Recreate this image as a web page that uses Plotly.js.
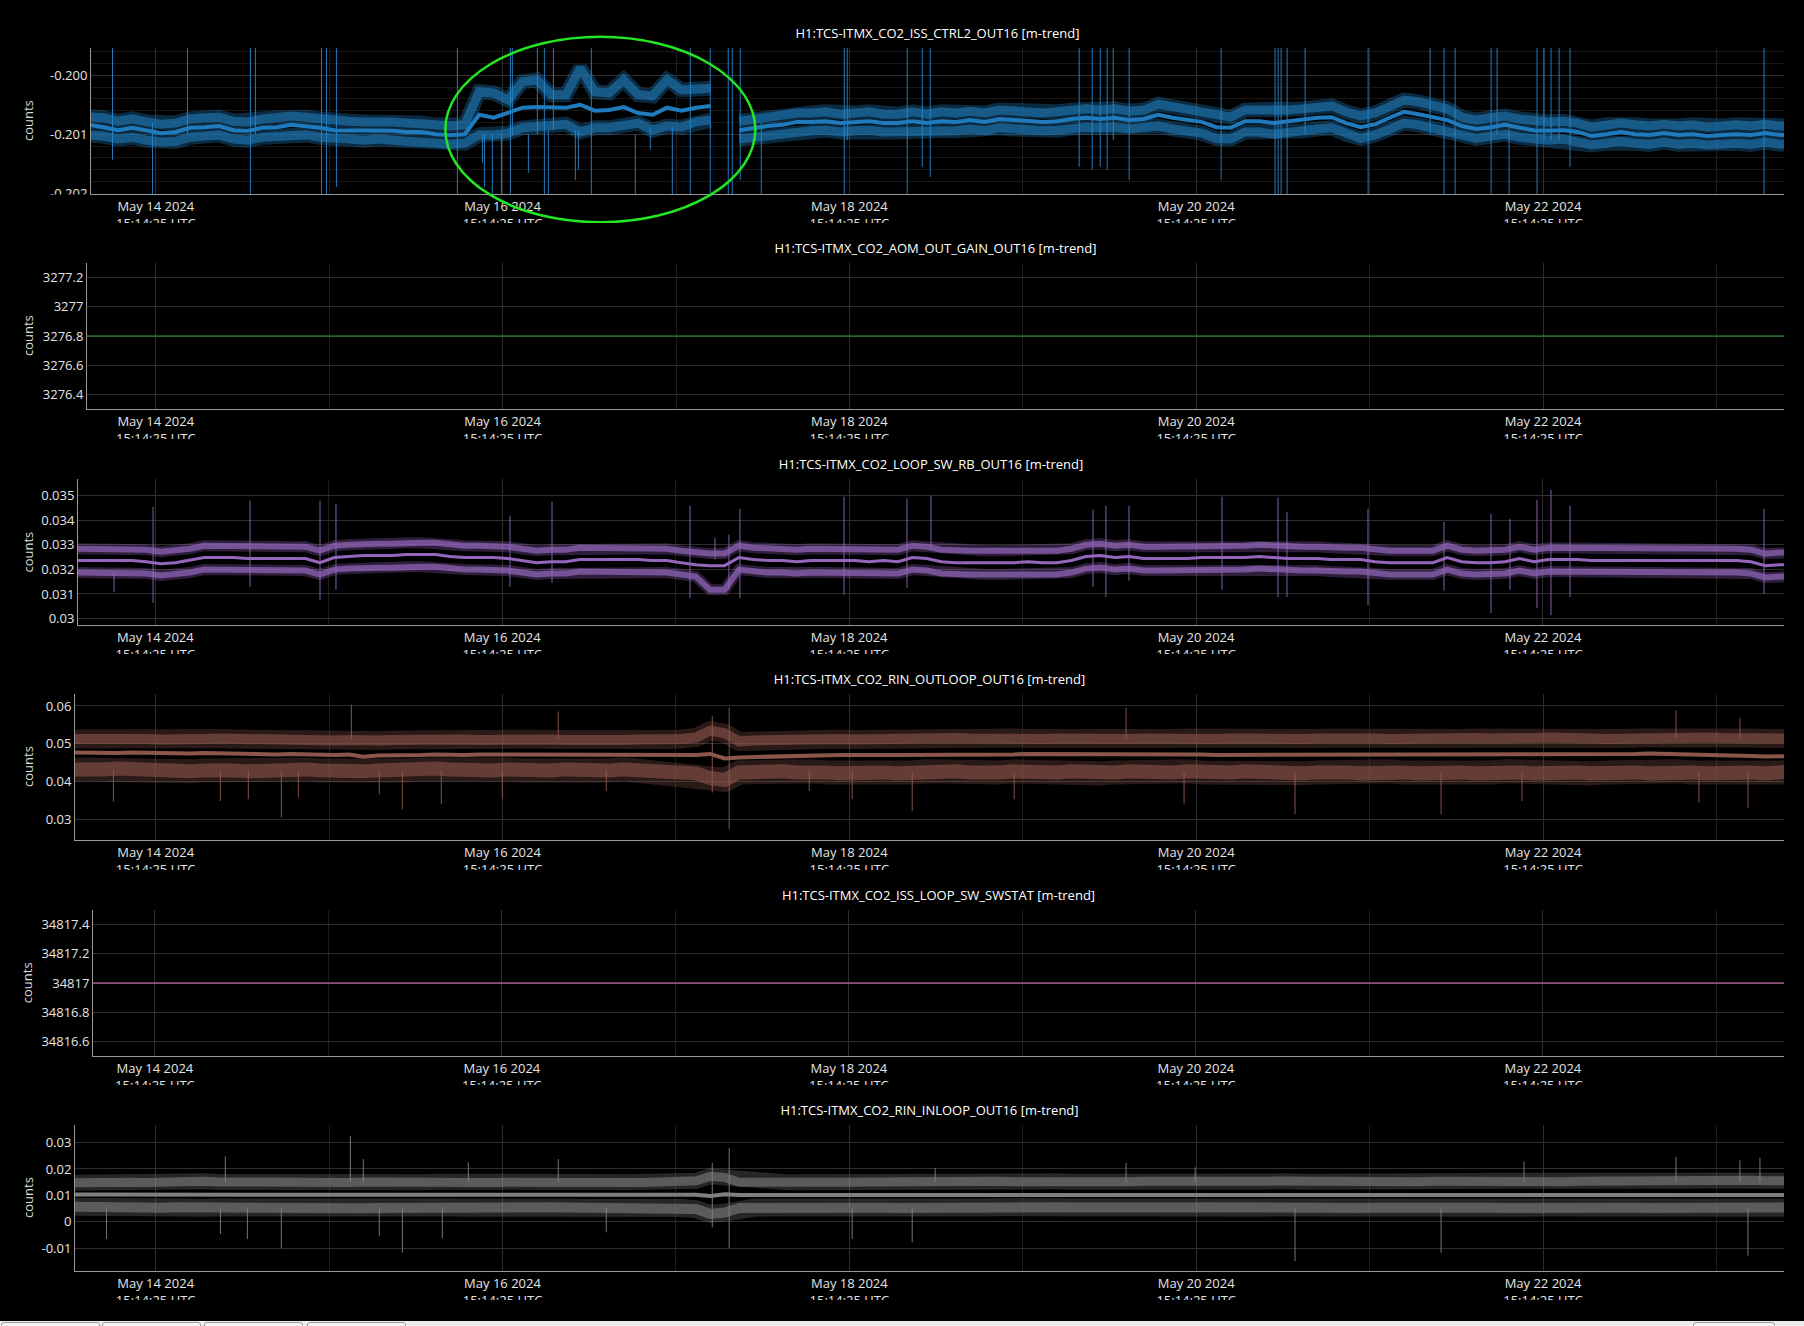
<!DOCTYPE html>
<html>
<head>
<meta charset="utf-8">
<script src="https://cdn.plot.ly/plotly-3.0.1.min.js"></script>
<style>
  html { background:#000; }
  body { margin:8px; background:#000; overflow:hidden; width:1788px; }
  .panel { width:1788px; height:215.4px; overflow:hidden; position:relative; }
  .panel > div { width:1788px; height:240px; }
  #tabbar { position:absolute; left:0; top:1321px; width:1804px; height:5px; background:#ececec; }
  .tab { position:absolute; top:1px; height:8px; border:1px solid #9a9a9a; border-radius:3px 3px 0 0; background:#f6f6f6; }
</style>
</head>
<body>
<div class="panel"><div id="p1"></div></div>
<div class="panel"><div id="p2"></div></div>
<div class="panel"><div id="p3"></div></div>
<div class="panel"><div id="p4"></div></div>
<div class="panel"><div id="p5"></div></div>
<div class="panel"><div id="p6"></div></div>
<div id="tabbar">
  <div class="tab" style="left:1px;width:97px"></div>
  <div class="tab" style="left:102px;width:97px"></div>
  <div class="tab" style="left:204px;width:97px"></div>
  <div class="tab" style="left:307px;width:97px"></div>
  <div class="tab" style="left:1693px;width:80px"></div>
</div>
<script>
// ---------- time grid (minute-trend samples resampled every 2 h, hours from 2024-05-14 04:00 UTC) ----------
const gridStartUTC = Date.UTC(2024, 4, 14, 4, 0, 0);
const gridStepHours = 2;
const gridCount = 120;

// ---------- channel titles ----------
const titles = [
  'H1:TCS-ITMX_CO2_ISS_CTRL2_OUT16 [m-trend]',
  'H1:TCS-ITMX_CO2_AOM_OUT_GAIN_OUT16 [m-trend]',
  'H1:TCS-ITMX_CO2_LOOP_SW_RB_OUT16 [m-trend]',
  'H1:TCS-ITMX_CO2_RIN_OUTLOOP_OUT16 [m-trend]',
  'H1:TCS-ITMX_CO2_ISS_LOOP_SW_SWSTAT [m-trend]',
  'H1:TCS-ITMX_CO2_RIN_INLOOP_OUT16 [m-trend]'
];

// ---------- y tick labels (hyphen minus, as in the reference) ----------
const p1TickVals = [-0.202, -0.201, -0.200];
const p1TickText = ['-0.202', '-0.201', '-0.200'];
const p6TickVals = [-0.01, 0, 0.01, 0.02, 0.03];
const p6TickText = ['-0.01', '0', '0.01', '0.02', '0.03'];

// ---------- panel 1: ISS_CTRL2 ----------
const issCtrl2Mean = [-0.20084,-0.20084,-0.20088,-0.20093,-0.20089,-0.20094,-0.20098,-0.20096,-0.20089,-0.20088,
 -0.20086,-0.20093,-0.20094,-0.20089,-0.20088,-0.20084,-0.20086,-0.20089,-0.20093,-0.20093,
 -0.20094,-0.20093,-0.20094,-0.20096,-0.20096,-0.20100,-0.20101,-0.20100,-0.20067,-0.20072,
 -0.20064,-0.20055,-0.20054,-0.20055,-0.20055,-0.20050,-0.20060,-0.20059,-0.20054,-0.20064,
 -0.20067,-0.20055,-0.20060,-0.20055,-0.20052,null,-0.20093,-0.20089,-0.20086,-0.20084,
 -0.20079,-0.20079,-0.20078,-0.20081,-0.20079,-0.20078,-0.20081,-0.20081,-0.20078,-0.20081,
 -0.20078,-0.20079,-0.20076,-0.20079,-0.20074,-0.20076,-0.20078,-0.20079,-0.20078,-0.20074,
 -0.20072,-0.20074,-0.20072,-0.20076,-0.20074,-0.20067,-0.20072,-0.20076,-0.20079,-0.20088,
 -0.20089,-0.20078,-0.20078,-0.20081,-0.20078,-0.20076,-0.20072,-0.20071,-0.20081,-0.20088,
 -0.20083,-0.20072,-0.20062,-0.20066,-0.20071,-0.20076,-0.20086,-0.20091,-0.20088,-0.20084,
 -0.20089,-0.20093,-0.20094,-0.20093,-0.20096,-0.20103,-0.20100,-0.20096,-0.20100,-0.20101,
 -0.20098,-0.20101,-0.20100,-0.20103,-0.20101,-0.20100,-0.20101,-0.20098,-0.20101,-0.20101];
const issCtrl2Max = [-0.20069,-0.20069,-0.20072,-0.20078,-0.20074,-0.20079,-0.20083,-0.20081,-0.20074,-0.20072,
 -0.20071,-0.20078,-0.20079,-0.20074,-0.20072,-0.20069,-0.20071,-0.20074,-0.20078,-0.20078,
 -0.20079,-0.20078,-0.20079,-0.20081,-0.20081,-0.20084,-0.20086,-0.20084,-0.20028,-0.20030,
 -0.20042,-0.20011,-0.20008,-0.20033,-0.20033,-0.19988,-0.20028,-0.20030,-0.20008,-0.20033,
 -0.20035,-0.20008,-0.20025,-0.20025,-0.20022,null,-0.20078,-0.20074,-0.20071,-0.20069,
 -0.20064,-0.20064,-0.20062,-0.20066,-0.20064,-0.20062,-0.20066,-0.20066,-0.20062,-0.20066,
 -0.20062,-0.20064,-0.20061,-0.20064,-0.20059,-0.20061,-0.20062,-0.20064,-0.20062,-0.20059,
 -0.20057,-0.20059,-0.20057,-0.20061,-0.20059,-0.20049,-0.20054,-0.20057,-0.20061,-0.20069,
 -0.20071,-0.20059,-0.20059,-0.20062,-0.20059,-0.20057,-0.20054,-0.20052,-0.20062,-0.20069,
 -0.20064,-0.20054,-0.20042,-0.20045,-0.20052,-0.20057,-0.20071,-0.20076,-0.20072,-0.20069,
 -0.20074,-0.20078,-0.20079,-0.20078,-0.20081,-0.20088,-0.20084,-0.20081,-0.20084,-0.20086,
 -0.20083,-0.20086,-0.20084,-0.20088,-0.20086,-0.20084,-0.20086,-0.20083,-0.20086,-0.20086];
const issCtrl2Min = [-0.20100,-0.20100,-0.20103,-0.20108,-0.20105,-0.20110,-0.20113,-0.20112,-0.20105,-0.20103,
 -0.20101,-0.20108,-0.20110,-0.20105,-0.20103,-0.20100,-0.20101,-0.20105,-0.20108,-0.20108,
 -0.20110,-0.20108,-0.20110,-0.20112,-0.20112,-0.20115,-0.20117,-0.20115,-0.20101,-0.20101,
 -0.20098,-0.20089,-0.20086,-0.20084,-0.20083,-0.20096,-0.20089,-0.20089,-0.20084,-0.20081,
 -0.20093,-0.20086,-0.20088,-0.20079,-0.20076,null,-0.20108,-0.20105,-0.20101,-0.20100,
 -0.20094,-0.20094,-0.20093,-0.20096,-0.20094,-0.20093,-0.20096,-0.20096,-0.20093,-0.20096,
 -0.20093,-0.20094,-0.20091,-0.20094,-0.20089,-0.20091,-0.20093,-0.20094,-0.20093,-0.20089,
 -0.20088,-0.20089,-0.20088,-0.20091,-0.20089,-0.20086,-0.20091,-0.20094,-0.20098,-0.20107,
 -0.20108,-0.20096,-0.20096,-0.20100,-0.20096,-0.20094,-0.20091,-0.20089,-0.20100,-0.20107,
 -0.20101,-0.20091,-0.20081,-0.20084,-0.20089,-0.20094,-0.20101,-0.20107,-0.20103,-0.20100,
 -0.20105,-0.20108,-0.20110,-0.20108,-0.20112,-0.20118,-0.20115,-0.20112,-0.20115,-0.20117,
 -0.20113,-0.20117,-0.20115,-0.20118,-0.20117,-0.20115,-0.20117,-0.20113,-0.20117,-0.20117];
// glitches: hours since grid start, top and bottom value reached
const issCtrl2SpikeHours = [5.25,10.78,15.62,24.34,25.03,34.17,34.86,36.24,52.98,56.44,56.72,57.82,59.07,60.32,60.59,62.81,64.05,65.02,65.57,66.27,69.31,69.73,71.52,77.61,79.68,82.73,85.22,87.98,90.47,91.03,92.13,95.04,106.53,106.94,115.24,117.32,118.42,139.04,140.84,141.95,142.91,143.75,145.96,158.69,166.16,166.58,166.99,167.82,170.31,179.03,187.61,189.54,191.07,196.05,196.88,198.54,202.41,203.38,204.35,205.46,206.98,233.83];
const issCtrl2SpikeHigh = [-0.1995,-0.20080,-0.1995,-0.1995,-0.1995,-0.1995,-0.1995,-0.1995,-0.1995,-0.20100,-0.20100,-0.20100,-0.20100,-0.1995,-0.1995,-0.20100,-0.1995,-0.1995,-0.20093,-0.1995,-0.20093,-0.20093,-0.1995,-0.20100,-0.20088,-0.20088,-0.1995,-0.1995,-0.1995,-0.1995,-0.1995,-0.20080,-0.1995,-0.1995,-0.1995,-0.1995,-0.1995,-0.1995,-0.1995,-0.1995,-0.1995,-0.1995,-0.1995,-0.1995,-0.1995,-0.1995,-0.1995,-0.1995,-0.1995,-0.1995,-0.1995,-0.1995,-0.1995,-0.1995,-0.1995,-0.20090,-0.1995,-0.1995,-0.1995,-0.1995,-0.1995,-0.1995];
const issCtrl2SpikeLow = [-0.20143,-0.2021,-0.20100,-0.2021,-0.20100,-0.2021,-0.2021,-0.20189,-0.2021,-0.20148,-0.20189,-0.2021,-0.2021,-0.2021,-0.20100,-0.20165,-0.20100,-0.2021,-0.2021,-0.20093,-0.20177,-0.20160,-0.2021,-0.2021,-0.20126,-0.2021,-0.2021,-0.2021,-0.2021,-0.2021,-0.20177,-0.2021,-0.2021,-0.20110,-0.2021,-0.20155,-0.20172,-0.20155,-0.20160,-0.20155,-0.20160,-0.20110,-0.20177,-0.20177,-0.2021,-0.2021,-0.2021,-0.2021,-0.20100,-0.2021,-0.20100,-0.2021,-0.2021,-0.2021,-0.20100,-0.2021,-0.2021,-0.20110,-0.20110,-0.20110,-0.20155,-0.2021];

// ---------- panel 2: AOM_OUT_GAIN (constant) ----------
const aomGainHours = [0, 238];
const aomGainValues = [3276.8, 3276.8];

// ---------- panel 3: LOOP_SW_RB ----------
const loopSwMean = [0.03236,0.03236,0.03236,0.03236,0.03236,0.03231,0.03223,0.03227,0.03236,0.03248,
 0.03248,0.03248,0.03244,0.03244,0.03244,0.03244,0.03244,0.03227,0.03248,0.03252,
 0.03256,0.03256,0.03256,0.03260,0.03260,0.03260,0.03252,0.03248,0.03248,0.03248,
 0.03244,0.03236,0.03227,0.03231,0.03231,0.03240,0.03240,0.03240,0.03240,0.03240,
 0.03236,0.03236,0.03227,0.03219,0.03215,0.03215,0.03248,0.03240,0.03236,0.03236,
 0.03231,0.03236,0.03236,0.03236,0.03236,0.03231,0.03236,0.03231,0.03248,0.03244,
 0.03231,0.03227,0.03227,0.03227,0.03227,0.03227,0.03231,0.03227,0.03227,0.03236,
 0.03252,0.03256,0.03248,0.03252,0.03244,0.03244,0.03244,0.03244,0.03248,0.03248,
 0.03248,0.03248,0.03252,0.03248,0.03244,0.03244,0.03244,0.03240,0.03240,0.03240,
 0.03231,0.03227,0.03227,0.03227,0.03227,0.03248,0.03231,0.03227,0.03227,0.03231,
 0.03244,0.03231,0.03240,0.03240,0.03240,0.03236,0.03236,0.03236,0.03236,0.03236,
 0.03236,0.03236,0.03236,0.03236,0.03236,0.03236,0.03231,0.03215,0.03219,0.03219];
const loopSwMax = [0.03284,0.03284,0.03284,0.03284,0.03284,0.03280,0.03272,0.03276,0.03284,0.03296,
 0.03296,0.03296,0.03292,0.03292,0.03292,0.03292,0.03292,0.03276,0.03296,0.03300,
 0.03304,0.03304,0.03304,0.03308,0.03308,0.03308,0.03300,0.03296,0.03296,0.03296,
 0.03292,0.03284,0.03276,0.03280,0.03280,0.03288,0.03288,0.03288,0.03288,0.03288,
 0.03284,0.03284,0.03276,0.03268,0.03264,0.03264,0.03296,0.03288,0.03284,0.03284,
 0.03280,0.03284,0.03284,0.03284,0.03284,0.03280,0.03284,0.03280,0.03296,0.03292,
 0.03280,0.03276,0.03276,0.03276,0.03276,0.03276,0.03280,0.03276,0.03276,0.03284,
 0.03300,0.03304,0.03296,0.03300,0.03292,0.03292,0.03292,0.03292,0.03296,0.03296,
 0.03296,0.03296,0.03300,0.03296,0.03292,0.03292,0.03292,0.03288,0.03288,0.03288,
 0.03280,0.03276,0.03276,0.03276,0.03276,0.03296,0.03280,0.03276,0.03276,0.03280,
 0.03292,0.03280,0.03288,0.03288,0.03288,0.03284,0.03284,0.03284,0.03284,0.03284,
 0.03284,0.03284,0.03284,0.03284,0.03284,0.03284,0.03280,0.03264,0.03268,0.03268];
const loopSwMin = [0.03187,0.03187,0.03187,0.03187,0.03187,0.03183,0.03175,0.03179,0.03187,0.03199,
 0.03199,0.03199,0.03195,0.03195,0.03195,0.03195,0.03195,0.03179,0.03199,0.03203,
 0.03207,0.03207,0.03207,0.03211,0.03211,0.03211,0.03203,0.03199,0.03199,0.03199,
 0.03195,0.03187,0.03179,0.03183,0.03183,0.03191,0.03191,0.03191,0.03191,0.03191,
 0.03187,0.03187,0.03179,0.03171,0.03117,0.03117,0.03199,0.03191,0.03187,0.03187,
 0.03183,0.03187,0.03187,0.03187,0.03187,0.03183,0.03187,0.03183,0.03199,0.03195,
 0.03183,0.03179,0.03179,0.03179,0.03179,0.03179,0.03183,0.03179,0.03179,0.03187,
 0.03203,0.03207,0.03199,0.03203,0.03195,0.03195,0.03195,0.03195,0.03199,0.03199,
 0.03199,0.03199,0.03203,0.03199,0.03195,0.03195,0.03195,0.03191,0.03191,0.03191,
 0.03183,0.03179,0.03179,0.03179,0.03179,0.03199,0.03183,0.03179,0.03179,0.03183,
 0.03195,0.03183,0.03191,0.03191,0.03191,0.03187,0.03187,0.03187,0.03187,0.03187,
 0.03187,0.03187,0.03187,0.03187,0.03187,0.03187,0.03183,0.03167,0.03171,0.03171];
const loopSwSpikeHours = [5.53,10.93,24.34,34.03,36.24,60.32,66.13,85.22,88.68,90.61,92.13,106.53,115.24,118.56,140.98,142.77,145.96,158.83,166.58,167.82,179.03,189.54,196.05,198.68,202.41,204.35,206.98,233.83];
const loopSwSpikeHigh = [0.03187,0.03454,0.03479,0.03479,0.03466,0.03418,0.03474,0.03458,0.03328,0.03341,0.03446,0.03495,0.03487,0.03499,0.03442,0.03458,0.03458,0.03495,0.03491,0.03434,0.03446,0.03393,0.03425,0.03405,0.03483,0.03523,0.03458,0.03446];
const loopSwSpikeLow = [0.03109,0.03064,0.03129,0.03076,0.03117,0.03129,0.03145,0.03084,0.03240,0.03117,0.03084,0.03096,0.03125,0.03280,0.03129,0.03088,0.03154,0.03117,0.03088,0.03088,0.03055,0.03113,0.03023,0.03117,0.03043,0.03014,0.03088,0.03100];

// ---------- panel 4: RIN_OUTLOOP ----------
const rinOutMean = [0.04774,0.04761,0.04748,0.04761,0.04774,0.04761,0.04748,0.04735,0.04748,0.04761,
 0.04748,0.04735,0.04748,0.04735,0.04722,0.04735,0.04722,0.04722,0.04709,0.04722,
 0.04660,0.04696,0.04709,0.04709,0.04709,0.04722,0.04709,0.04709,0.04722,0.04722,
 0.04709,0.04709,0.04722,0.04709,0.04709,0.04696,0.04709,0.04709,0.04709,0.04722,
 0.04709,0.04709,0.04722,0.04709,0.04735,0.04617,0.04643,0.04656,0.04669,0.04682,
 0.04696,0.04696,0.04709,0.04709,0.04709,0.04722,0.04709,0.04709,0.04709,0.04696,
 0.04709,0.04709,0.04722,0.04722,0.04709,0.04722,0.04735,0.04735,0.04722,0.04735,
 0.04748,0.04735,0.04735,0.04722,0.04735,0.04735,0.04722,0.04735,0.04722,0.04709,
 0.04709,0.04722,0.04709,0.04709,0.04722,0.04709,0.04722,0.04735,0.04722,0.04722,
 0.04709,0.04722,0.04722,0.04735,0.04722,0.04735,0.04735,0.04722,0.04735,0.04722,
 0.04735,0.04722,0.04735,0.04735,0.04722,0.04735,0.04722,0.04722,0.04735,0.04748,
 0.04735,0.04722,0.04735,0.04709,0.04696,0.04682,0.04682,0.04669,0.04682,0.04682];
const rinOutMax = [0.05130,0.05142,0.05116,0.05130,0.05142,0.05130,0.05116,0.05103,0.05116,0.05130,
 0.05142,0.05130,0.05116,0.05130,0.05116,0.05103,0.05116,0.05103,0.05089,0.05103,
 0.05063,0.05089,0.05103,0.05116,0.05103,0.05116,0.05130,0.05116,0.05103,0.05116,
 0.05103,0.05116,0.05130,0.05116,0.05103,0.05089,0.05103,0.05116,0.05103,0.05116,
 0.05103,0.05116,0.05130,0.05168,0.05350,0.05280,0.05063,0.05089,0.05103,0.05116,
 0.05116,0.05103,0.05116,0.05130,0.05116,0.05130,0.05142,0.05130,0.05142,0.05130,
 0.05142,0.05155,0.05142,0.05130,0.05142,0.05155,0.05142,0.05130,0.05142,0.05130,
 0.05142,0.05155,0.05142,0.05130,0.05142,0.05130,0.05142,0.05155,0.05142,0.05130,
 0.05142,0.05130,0.05116,0.05130,0.05142,0.05130,0.05142,0.05155,0.05142,0.05130,
 0.05142,0.05130,0.05142,0.05155,0.05142,0.05130,0.05142,0.05155,0.05142,0.05130,
 0.05142,0.05155,0.05168,0.05142,0.05130,0.05142,0.05130,0.05142,0.05155,0.05168,
 0.05155,0.05142,0.05155,0.05168,0.05155,0.05142,0.05155,0.05142,0.05130,0.05142];
const rinOutMin = [0.04328,0.04302,0.04328,0.04354,0.04328,0.04302,0.04328,0.04302,0.04276,0.04302,
 0.04328,0.04302,0.04276,0.04302,0.04276,0.04302,0.04328,0.04302,0.04276,0.04302,
 0.04276,0.04302,0.04328,0.04302,0.04328,0.04354,0.04328,0.04302,0.04328,0.04302,
 0.04328,0.04302,0.04276,0.04302,0.04328,0.04302,0.04276,0.04302,0.04328,0.04302,
 0.04302,0.04276,0.04249,0.04223,0.04100,0.04050,0.04249,0.04276,0.04302,0.04276,
 0.04249,0.04276,0.04249,0.04223,0.04249,0.04276,0.04249,0.04223,0.04249,0.04276,
 0.04249,0.04276,0.04249,0.04223,0.04249,0.04276,0.04249,0.04223,0.04249,0.04276,
 0.04249,0.04223,0.04249,0.04276,0.04249,0.04223,0.04249,0.04276,0.04249,0.04223,
 0.04249,0.04276,0.04249,0.04276,0.04249,0.04223,0.04249,0.04276,0.04249,0.04223,
 0.04249,0.04276,0.04249,0.04223,0.04249,0.04276,0.04249,0.04223,0.04249,0.04276,
 0.04249,0.04223,0.04249,0.04276,0.04249,0.04223,0.04249,0.04276,0.04249,0.04223,
 0.04249,0.04276,0.04249,0.04223,0.04249,0.04276,0.04249,0.04223,0.04249,0.04276];
const rinOutSpikeHours = [5.39,20.2,24.06,28.63,30.98,38.32,42.19,45.38,50.77,59.21,66.96,73.6,88.27,90.61,101.69,107.63,115.94,130.05,145.54,153.56,168.92,189.13,200.33,221.64,224.82,230.49,231.60];
const rinOutSpikeHigh = [0.0430,0.0430,0.0430,0.0430,0.0430,0.06034,0.0430,0.0430,0.0430,0.0430,0.05858,0.0430,0.05727,0.05963,0.0430,0.0430,0.0425,0.0425,0.05948,0.0425,0.0425,0.0425,0.0425,0.05877,0.0425,0.05685,0.0425];
const rinOutSpikeLow = [0.03480,0.03496,0.03541,0.03060,0.03585,0.0512,0.03672,0.03278,0.03409,0.03541,0.0512,0.03759,0.03717,0.02753,0.03759,0.03541,0.03234,0.03541,0.0514,0.03409,0.03147,0.03147,0.03496,0.0514,0.03454,0.0514,0.03304];

// ---------- panel 5: ISS_LOOP_SW_SWSTAT (constant) ----------
const swstatHours = [0, 238];
const swstatValues = [34817, 34817];

// ---------- panel 6: RIN_INLOOP ----------
const rinInMean = [0.0103,0.0103,0.0102,0.0103,0.0102,0.0102,0.0103,0.0102,0.0102,0.0103,
 0.0102,0.0102,0.0101,0.0102,0.0102,0.0101,0.0101,0.0102,0.0101,0.0101,
 0.0102,0.0101,0.0101,0.0100,0.0101,0.0100,0.0100,0.0101,0.0100,0.0100,
 0.0101,0.0100,0.0101,0.0101,0.0100,0.0101,0.0101,0.0102,0.0101,0.0101,
 0.0101,0.0101,0.0101,0.0102,0.0098,0.0104,0.0101,0.0101,0.0100,0.0101,
 0.0101,0.0101,0.0100,0.0101,0.0101,0.0101,0.0102,0.0101,0.0101,0.0101,
 0.0101,0.0101,0.0102,0.0101,0.0101,0.0101,0.0102,0.0101,0.0101,0.0102,
 0.0101,0.0101,0.0101,0.0100,0.0101,0.0101,0.0101,0.0100,0.0099,0.0100,
 0.0101,0.0101,0.0101,0.0100,0.0101,0.0101,0.0101,0.0101,0.0101,0.0101,
 0.0100,0.0101,0.0101,0.0101,0.0101,0.0101,0.0101,0.0101,0.0101,0.0101,
 0.0101,0.0101,0.0101,0.0100,0.0101,0.0101,0.0101,0.0101,0.0101,0.0101,
 0.0101,0.0101,0.0101,0.0101,0.0101,0.0101,0.0101,0.0101,0.0101,0.0101];
const rinInMax = [0.0148,0.0150,0.0149,0.0151,0.0150,0.0149,0.0152,0.0150,0.0151,0.0153,
 0.0151,0.0150,0.0149,0.0150,0.0151,0.0149,0.0150,0.0151,0.0150,0.0149,
 0.0151,0.0150,0.0149,0.0148,0.0150,0.0152,0.0153,0.0151,0.0150,0.0149,
 0.0150,0.0149,0.0150,0.0151,0.0150,0.0149,0.0150,0.0151,0.0150,0.0149,
 0.0150,0.0151,0.0152,0.0155,0.0172,0.0168,0.0150,0.0149,0.0150,0.0151,
 0.0150,0.0151,0.0152,0.0151,0.0150,0.0151,0.0152,0.0151,0.0152,0.0153,
 0.0152,0.0151,0.0153,0.0154,0.0153,0.0152,0.0151,0.0152,0.0153,0.0152,
 0.0153,0.0154,0.0153,0.0152,0.0153,0.0152,0.0153,0.0154,0.0153,0.0152,
 0.0153,0.0152,0.0153,0.0154,0.0153,0.0152,0.0151,0.0152,0.0153,0.0152,
 0.0153,0.0154,0.0153,0.0152,0.0153,0.0152,0.0153,0.0154,0.0155,0.0154,
 0.0153,0.0154,0.0153,0.0152,0.0153,0.0154,0.0153,0.0152,0.0153,0.0154,
 0.0155,0.0154,0.0155,0.0156,0.0155,0.0156,0.0157,0.0155,0.0154,0.0155];
const rinInMin = [0.0057,0.0055,0.0054,0.0056,0.0055,0.0054,0.0053,0.0055,0.0054,0.0053,
 0.0054,0.0055,0.0053,0.0052,0.0054,0.0053,0.0052,0.0051,0.0053,0.0052,
 0.0051,0.0052,0.0053,0.0052,0.0051,0.0053,0.0054,0.0053,0.0054,0.0055,
 0.0054,0.0055,0.0054,0.0055,0.0054,0.0053,0.0054,0.0055,0.0054,0.0053,
 0.0054,0.0053,0.0052,0.0048,0.0030,0.0035,0.0052,0.0053,0.0054,0.0053,
 0.0053,0.0054,0.0053,0.0052,0.0053,0.0054,0.0053,0.0052,0.0053,0.0054,
 0.0053,0.0052,0.0053,0.0054,0.0055,0.0054,0.0053,0.0054,0.0055,0.0054,
 0.0053,0.0054,0.0053,0.0052,0.0053,0.0054,0.0053,0.0054,0.0055,0.0054,
 0.0053,0.0052,0.0053,0.0054,0.0053,0.0052,0.0053,0.0054,0.0053,0.0052,
 0.0053,0.0054,0.0053,0.0054,0.0055,0.0054,0.0053,0.0054,0.0053,0.0052,
 0.0053,0.0054,0.0053,0.0052,0.0053,0.0054,0.0053,0.0054,0.0053,0.0052,
 0.0053,0.0052,0.0053,0.0052,0.0053,0.0052,0.0051,0.0052,0.0053,0.0054];
const rinInSpikeHours = [4.43,20.2,20.88,23.93,28.63,38.18,39.98,42.19,45.38,50.91,54.51,66.96,73.6,88.27,90.61,107.63,115.94,119.12,145.54,155.09,168.92,189.13,200.61,221.64,230.49,231.60,233.26];
const rinInSpikeHigh = [0.0054,0.0054,0.02475,0.0054,0.0054,0.03251,0.02377,0.0054,0.0054,0.0054,0.02250,0.02377,0.0054,0.02227,0.02790,0.0054,0.0054,0.02039,0.02227,0.02062,0.0054,0.0054,0.02287,0.02452,0.02325,0.0054,0.02415];
const rinInSpikeLow = [-0.00651,-0.00463,0.0150,-0.00651,-0.01000,0.0150,0.0150,-0.00527,-0.01176,-0.00625,0.0150,0.0150,-0.00400,-0.00212,-0.00989,-0.00651,-0.00775,0.0150,0.0150,0.0150,-0.01488,-0.01176,0.0150,0.0150,0.0150,-0.01278,0.0150];

// ---------- helpers ----------
function hoursToDate(h) {
  return new Date(gridStartUTC + h * 3600000).toISOString().replace('T', ' ').replace('Z', '');
}
const gridTimes = [];
for (let i = 0; i < gridCount; i++) gridTimes.push(hoursToDate(i * gridStepHours));

function spikeTrace(hours, hi, lo, color) {
  const x = [], y = [];
  hours.forEach((h, i) => { const t = hoursToDate(h); x.push(t, t, null); y.push(hi[i], lo[i], null); });
  return { type: 'scatter', mode: 'lines', x, y, line: { color, width: 1 }, hoverinfo: 'skip', connectgaps: false };
}
function lineTrace(vals, color, width) {
  return { type: 'scatter', mode: 'lines', x: gridTimes, y: vals, line: { color, width }, hoverinfo: 'skip', connectgaps: false };
}
// a fuzzy min/max band: a faint wide halo under a denser core
function band(vals, rgb, haloW, coreW, haloA, coreA) {
  return [lineTrace(vals, 'rgba(' + rgb + ',' + haloA + ')', haloW), lineTrace(vals, 'rgba(' + rgb + ',' + coreA + ')', coreW)];
}

const FONT = '"Open Sans", verdana, arial, sans-serif';
const H = 240;
const RIGHT_END = '2024-05-24 00:35:24';

function makeLayout(o) {
  const ann = [{
    text: 'counts', xref: 'paper', yref: 'paper', x: 0, y: 0.5, xshift: 19.6 - o.l,
    xanchor: 'center', yanchor: 'middle', textangle: -90, showarrow: false,
    font: { family: FONT, size: 13, color: '#dcdcdc' }
  }];
  const yaxis = {
    range: o.yrange, dtick: o.dtick, tick0: 0, showgrid: true, gridcolor: '#2e2e2e', gridwidth: 1,
    showline: true, linecolor: '#9a9a9a', linewidth: 1, zeroline: false, ticks: '',
    tickfont: { family: FONT, size: 13, color: '#e4e4e4' }, fixedrange: true
  };
  if (o.fmt) yaxis.tickformat = o.fmt;
  if (o.tickvals) { yaxis.tickmode = 'array'; yaxis.tickvals = o.tickvals; yaxis.ticktext = o.ticktext; }
  if (o.yminor) yaxis.minor = { dtick: o.yminor, tick0: 0, showgrid: true, gridcolor: '#171717', gridwidth: 1 };
  const shapes = (o.shapes || []).slice();
  return {
    width: 1788, height: H,
    margin: { l: o.l, r: 12, t: 40, b: H - 186, pad: 0 },
    paper_bgcolor: '#000000', plot_bgcolor: '#000000',
    font: { family: FONT, size: 13, color: '#e4e4e4' },
    showlegend: false,
    title: { text: o.title, x: 0.5, xref: 'paper', xanchor: 'center', y: 1 - 25 / H, yref: 'container', yanchor: 'middle',
             font: { family: FONT, size: 13, color: '#ffffff' } },
    xaxis: {
      type: 'date', range: [o.xstart, RIGHT_END], tick0: '2024-05-14 15:14:25', dtick: 172800000,
      tickformat: '%b %d %Y<br>%H:%M:%S UTC', showgrid: true, gridcolor: '#2e2e2e', gridwidth: 1,
      showline: true, linecolor: '#9a9a9a', linewidth: 1, zeroline: false, ticks: '',
      tickfont: { family: FONT, size: 13, color: '#e4e4e4' }, fixedrange: true,
      minor: { tick0: '2024-05-14 15:14:25', dtick: 86400000, showgrid: true, gridcolor: '#1c1c1c', gridwidth: 1 }
    },
    yaxis,
    annotations: ann,
    shapes
  };
}
const cfg = { staticPlot: true, displayModeBar: false };

// panel 1
Plotly.newPlot('p1', [
  ...band(issCtrl2Max, '31,119,180', 15, 9, 0.35, 0.62),
  ...band(issCtrl2Min, '31,119,180', 15, 9, 0.35, 0.62),
  spikeTrace(issCtrl2SpikeHours, issCtrl2SpikeHigh, issCtrl2SpikeLow, 'rgba(40,135,205,0.9)'),
  lineTrace(issCtrl2Mean, '#1f7bbd', 4)
], makeLayout({
  title: titles[0], l: 82.5, xstart: '2024-05-14 06:16:24', yrange: [-0.20201, -0.19954],
  tickvals: p1TickVals, ticktext: p1TickText, yminor: 0.0002,
  shapes: [
    // the bottom tick label is cut off at the axis line in the reference
    { type: 'rect', xref: 'paper', yref: 'paper', x0: -0.06, x1: -0.0008, y0: -0.2, y1: -0.004,
      fillcolor: '#000000', line: { width: 0 }, layer: 'above' },
    { type: 'circle', xref: 'paper', yref: 'paper', x0: 0.2093, x1: 0.3924, y0: -0.1938, y1: 1.0767,
      line: { color: '#22e622', width: 2.5 }, layer: 'above' }
  ]
}), cfg);

// panel 2
Plotly.newPlot('p2', [
  { type: 'scatter', mode: 'lines', x: aomGainHours.map(hoursToDate), y: aomGainValues, line: { color: '#2ca02c', width: 1.2 }, hoverinfo: 'skip' }
], makeLayout({ title: titles[1], l: 78.5, xstart: '2024-05-14 05:43:16', yrange: [3276.3, 3277.3], dtick: 0.2, fmt: '.5~r' }), cfg);

// panel 3
Plotly.newPlot('p3', [
  ...band(loopSwMax, '148,103,189', 11, 6, 0.3, 0.7),
  ...band(loopSwMin, '148,103,189', 11, 6, 0.3, 0.7),
  spikeTrace(loopSwSpikeHours, loopSwSpikeHigh, loopSwSpikeLow, 'rgba(148,103,189,0.9)'),
  lineTrace(loopSwMean, '#9467bd', 3)
], makeLayout({ title: titles[2], l: 70, xstart: '2024-05-14 04:32:42', yrange: [0.02974, 0.03567], dtick: 0.001 }), cfg);

// panel 4
Plotly.newPlot('p4', [
  ...band(rinOutMax, '140,86,75', 19, 10, 0.3, 0.6),
  ...band(rinOutMin, '140,86,75', 24, 14, 0.3, 0.6),
  spikeTrace(rinOutSpikeHours, rinOutSpikeHigh, rinOutSpikeLow, 'rgba(150,90,80,0.9)'),
  lineTrace(rinOutMean, '#8c564b', 4)
], makeLayout({ title: titles[3], l: 66.6, xstart: '2024-05-14 04:04:30', yrange: [0.02467, 0.06315], dtick: 0.01 }), cfg);

// panel 5
Plotly.newPlot('p5', [
  { type: 'scatter', mode: 'lines', x: swstatHours.map(hoursToDate), y: swstatValues, line: { color: '#e377c2', width: 1.2 }, hoverinfo: 'skip' }
], makeLayout({ title: titles[4], l: 85.4, xstart: '2024-05-14 06:40:36', yrange: [34816.5, 34817.5], dtick: 0.2, fmt: '.6~r' }), cfg);

// panel 6
Plotly.newPlot('p6', [
  ...band(rinInMax, '127,127,127', 16, 9, 0.3, 0.6),
  ...band(rinInMin, '127,127,127', 18, 10, 0.3, 0.6),
  spikeTrace(rinInSpikeHours, rinInSpikeHigh, rinInSpikeLow, 'rgba(130,130,130,0.9)'),
  lineTrace(rinInMean, '#7f7f7f', 4)
], makeLayout({ title: titles[5], l: 66.6, xstart: '2024-05-14 04:04:30', yrange: [-0.01863, 0.03664],
  tickvals: p6TickVals, ticktext: p6TickText }), cfg);
</script>
</body>
</html>
